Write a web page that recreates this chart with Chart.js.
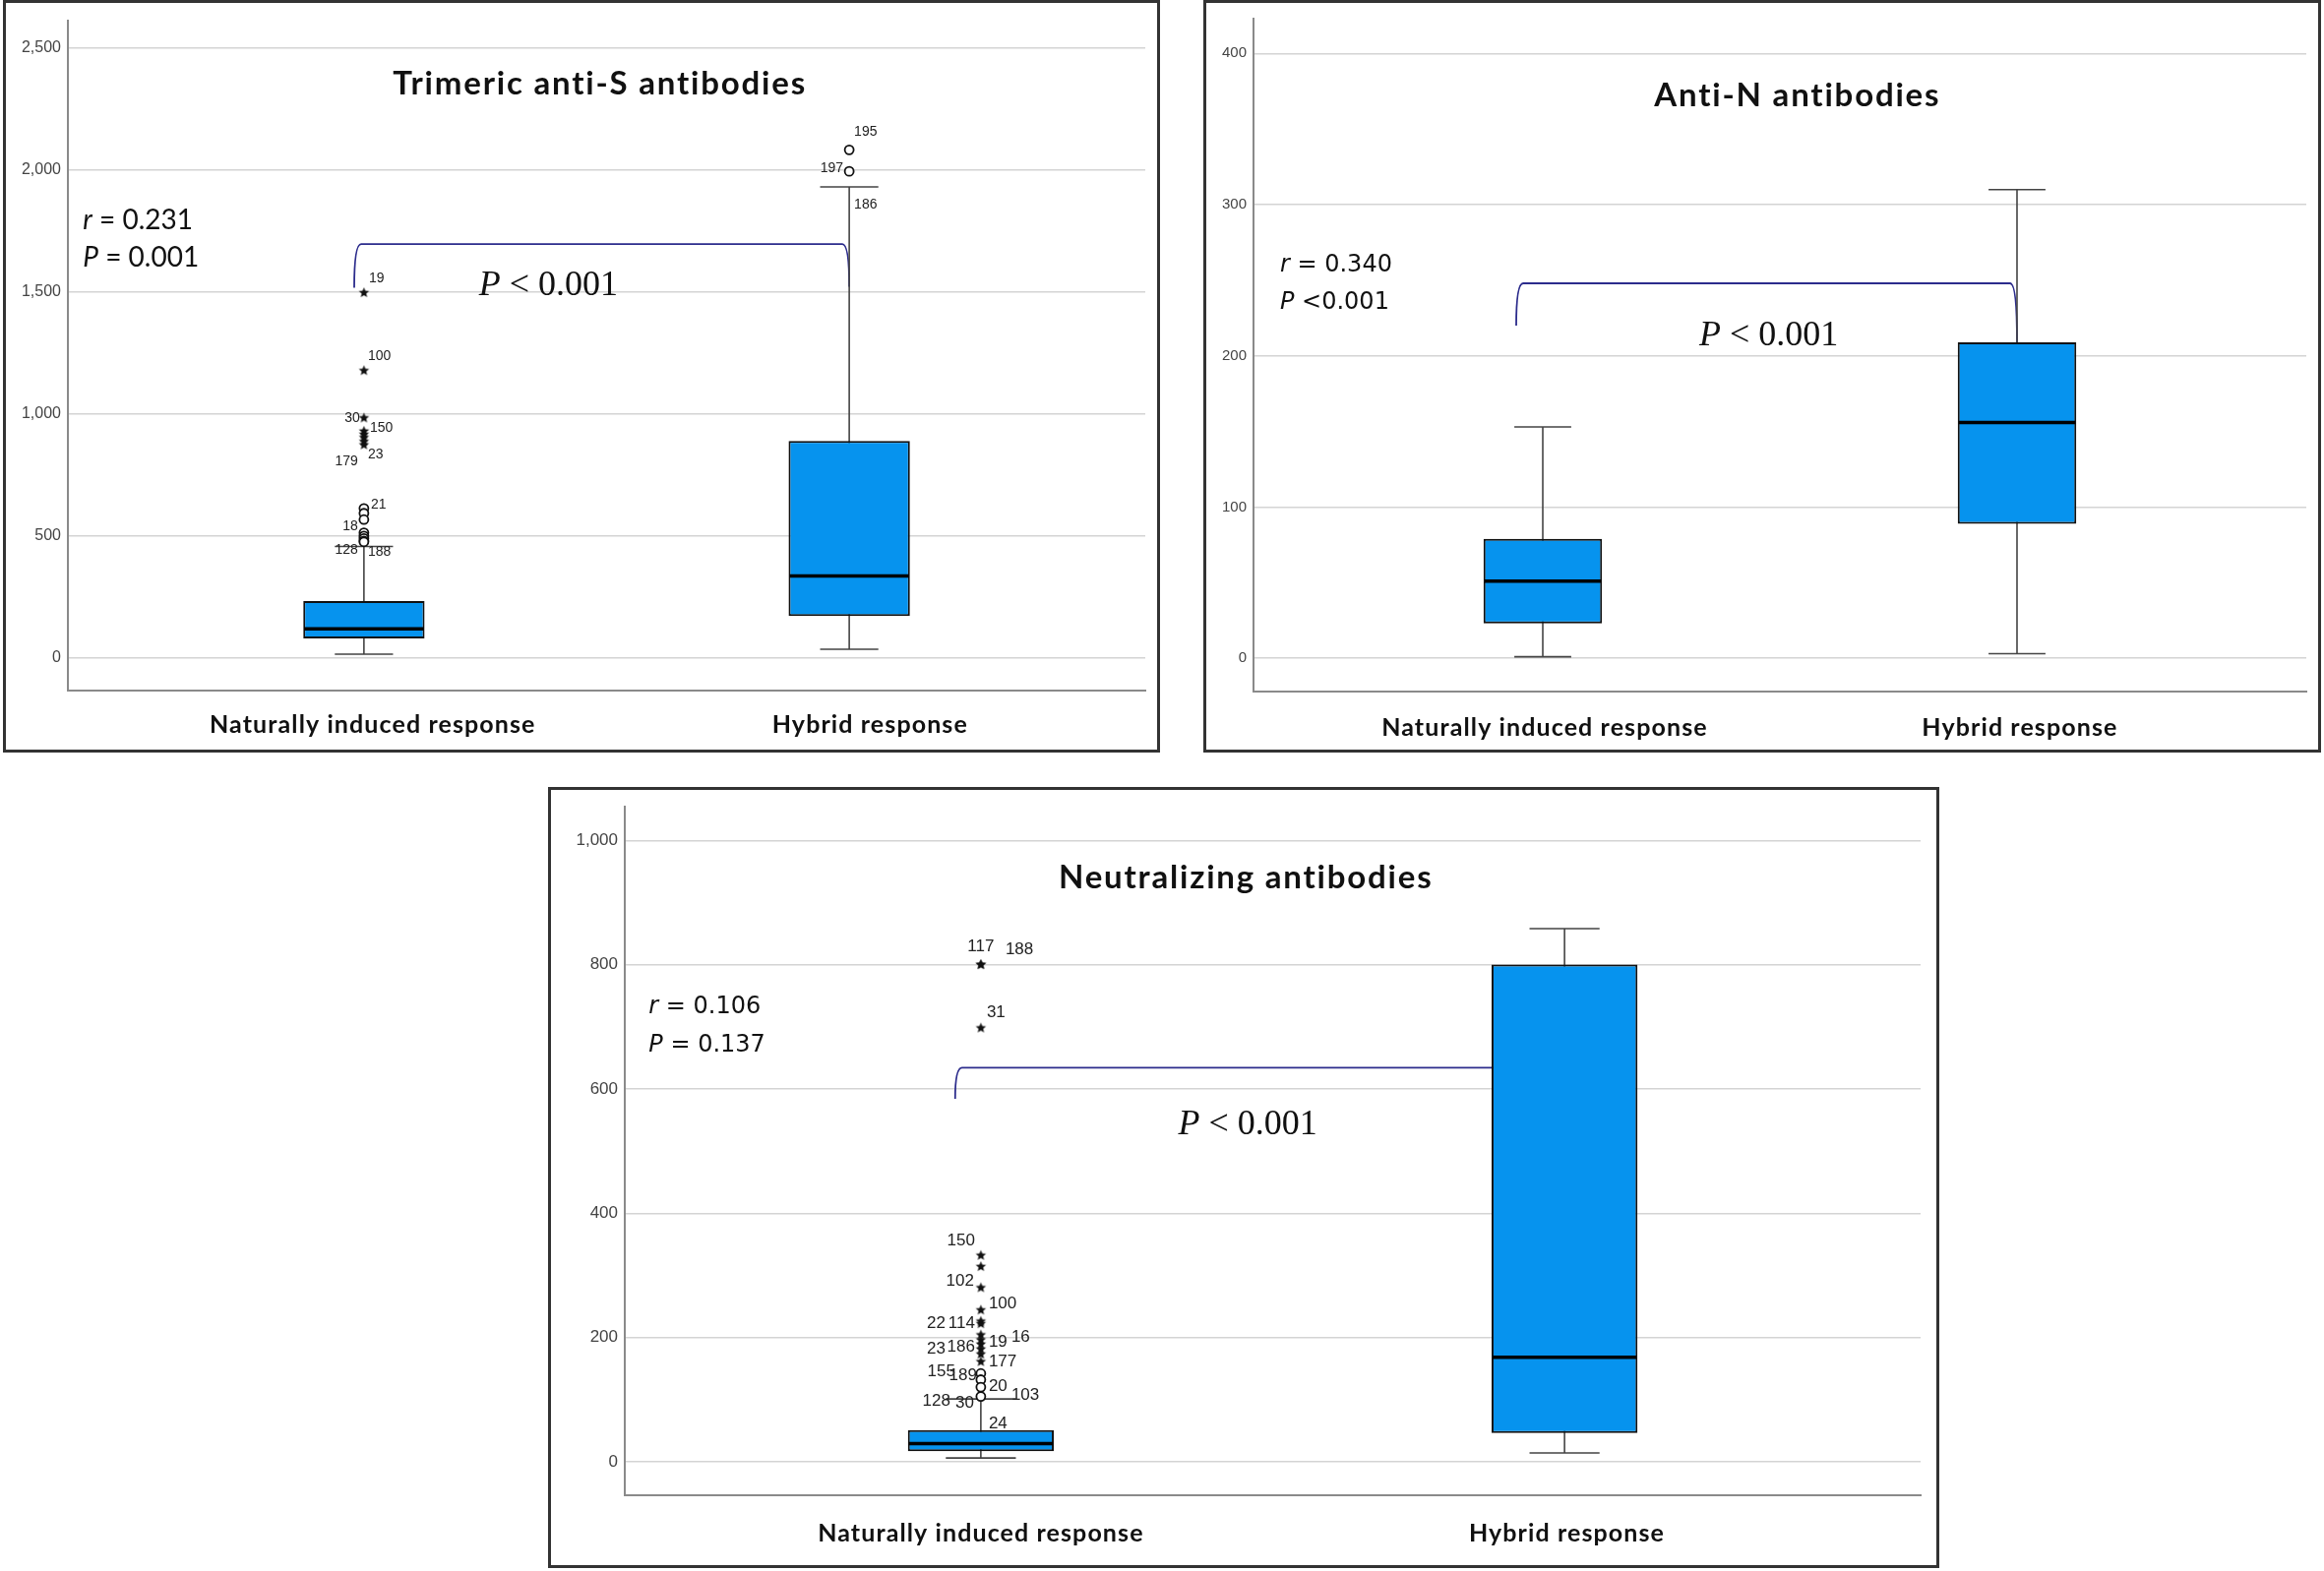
<!DOCTYPE html>
<html>
<head>
<meta charset="utf-8">
<script src="https://cdn.jsdelivr.net/npm/chart.js@4.4.1/dist/chart.umd.min.js"></script>
<style>
  html, body { margin: 0; padding: 0; background: #fff; }
  body { width: 2362px; height: 1597px; position: relative; overflow: hidden; }
  .panel { position: absolute; box-sizing: border-box; border: 3px solid #333; background: #fff; }
  .panel canvas { display: block; }
</style>
</head>
<body>
<div class="panel" style="left:3px;top:0;width:1176px;height:765px"><canvas id="chart-trimeric" width="1170" height="759"></canvas></div>
<div class="panel" style="left:1223px;top:0;width:1136px;height:765px"><canvas id="chart-antin" width="1130" height="759"></canvas></div>
<div class="panel" style="left:557px;top:800px;width:1414px;height:794px"><canvas id="chart-neut" width="1408" height="788"></canvas></div>
<script>
const groups = ["Naturally induced response", "Hybrid response"];

// Trimeric anti-S
const trimericTicks = [0, 500, 1000, 1500, 2000, 2500];
const trimericMin = [16, 36];
const trimericQ1 = [80, 172];
const trimericMedian = [120, 336];
const trimericQ3 = [234, 889];
const trimericMax = [457, 1929];
const trimericCircleGroup = [0, 0, 0, 0, 0, 0, 0, 0, 1, 1];
const trimericCircleValue = [613, 593, 567, 513, 500, 490, 480, 476, 1993, 2081];
const trimericCircleId = ["21", "", "18", "", "", "", "128", "188", "197", "195"];
const trimericStarGroup = [0, 0, 0, 0, 0, 0, 0, 0];
const trimericStarValue = [1496, 1177, 983, 929, 916, 903, 887, 873];
const trimericStarId = ["19", "100", "30", "150", "", "", "23", "179"];
const trimericCaseGroup = [1];
const trimericCaseValue = [1929];
const trimericCaseId = ["186"];

// Anti-N
const antiNTicks = [0, 100, 200, 300, 400];
const antiNMin = [1, 3];
const antiNQ1 = [23, 89];
const antiNMedian = [51, 156];
const antiNQ3 = [79, 209];
const antiNMax = [153, 310];

// Neutralizing
const neutTicks = [0, 200, 400, 600, 800, 1000];
const neutMin = [6, 14];
const neutQ1 = [17, 46];
const neutMedian = [29, 168];
const neutQ3 = [51, 800];
const neutMax = [101, 858];
const neutCircleGroup = [0, 0, 0, 0];
const neutCircleValue = [142, 132, 120, 105];
const neutCircleId = ["155", "189", "20", "30"];
const neutStarGroup = [0, 0, 0, 0, 0, 0, 0, 0, 0, 0, 0, 0, 0, 0, 0];
const neutStarValue = [800, 800, 698, 332, 314, 280, 244, 226, 222, 204, 196, 189, 181, 173, 161];
const neutStarId = ["117", "188", "31", "150", "", "102", "100", "114", "22", "16", "19", "", "186", "23", "177"];
const neutCaseGroup = [0, 0, 0];
const neutCaseValue = [101, 101, 51];
const neutCaseId = ["128", "103", "24"];

// Significance brackets: [x start, x end, top, left foot, right foot]
const trimericBracket = [-0.02, 1.0, 1695, 1516, 1520];
const antiNBracket = [-0.056, 1.0, 248, 220, 209];
const neutBracket = [-0.044, 0.936, 634, 584, 600];

// label offsets in px, [dx, dy]
const trimericCircleLabelPos = [[7, -4], [0, 0], [-6, 7], [0, 0], [0, 0], [0, 0], [-6, 9], [4, 10], [-6, -3], [5, -18]];
const trimericStarLabelPos = [[5, -14], [4, -15], [-4, 0], [6, -3], [0, 0], [0, 0], [4, 13], [-6, 17]];
const trimericCaseLabelPos = [[5, 18]];
const neutCircleLabelPos = [[-26, -2], [-4, -4], [8, -1], [-7, 7]];
const neutStarLabelPos = [[0, -18], [25, -15], [6, -16], [-6, -15], [0, 0], [-7, -7], [8, -6], [-6, 2], [-36, 0], [31, 2], [8, 2], [0, 0], [-6, -2], [-36, -5], [8, 0]];
const neutCaseLabelPos = [[-31, 2], [31, -4], [8, -6]];

const BOX_FILL = "#0693ee";

function makeStar(r) {
  const c = document.createElement("canvas");
  c.width = c.height = Math.ceil(r * 2 + 2);
  const g = c.getContext("2d");
  const cx = c.width / 2, cy = c.height / 2;
  g.beginPath();
  for (let k = 0; k < 10; k++) {
    const rad = k % 2 === 0 ? r : r * 0.45;
    const a = -Math.PI / 2 + (k * Math.PI) / 5;
    g.lineTo(cx + rad * Math.cos(a), cy + rad * Math.sin(a));
  }
  g.closePath();
  g.fillStyle = "#111";
  g.fill();
  return c;
}
const starImg = makeStar(5.5);

function points(g, v) {
  return g.map((x, i) => ({ x: x, y: v[i] }));
}

function drawParts(ctx, parts, x, y, size, family, weight, align, spacing) {
  const fontOf = (it) => (it ? "italic " : "") + (weight || "normal") + " " + size + "px " + family;
  ctx.letterSpacing = (spacing || 0) + "px";
  let total = 0;
  parts.forEach(([t, it]) => { ctx.font = fontOf(it); total += ctx.measureText(t).width; });
  let cx = align === "center" ? x - total / 2 : x;
  ctx.textAlign = "left";
  ctx.textBaseline = "middle";
  parts.forEach(([t, it]) => {
    ctx.font = fontOf(it);
    ctx.fillText(t, cx, y);
    cx += ctx.measureText(t).width;
  });
  ctx.letterSpacing = "0px";
}

function extras(p) {
  return {
    id: "extras",
    beforeDatasetsDraw(chart) {
      const ctx = chart.ctx;
      const x = chart.scales.x, y = chart.scales.y;
      ctx.save();
      const [bx0, bx1, bt, by0, by1] = p.bracket;
      const X0 = x.getPixelForValue(bx0), X1 = x.getPixelForValue(bx1);
      const T = y.getPixelForValue(bt), Y0 = y.getPixelForValue(by0), Y1 = y.getPixelForValue(by1);
      ctx.strokeStyle = "#2c2c8c";
      ctx.lineWidth = 1.8;
      ctx.beginPath();
      ctx.moveTo(X0, Y0);
      ctx.quadraticCurveTo(X0, T, X0 + 7, T);
      ctx.lineTo(X1 - 7, T);
      ctx.quadraticCurveTo(X1, T, X1, Y1);
      ctx.stroke();
      // whiskers
      ctx.strokeStyle = "#444";
      ctx.lineWidth = 1.6;
      p.min.forEach((lo, i) => {
        const cx = x.getPixelForValue(i);
        const half = x.getPixelForValue(i + 0.06) - cx;
        const pl = y.getPixelForValue(lo), ph = y.getPixelForValue(p.max[i]);
        ctx.beginPath();
        ctx.moveTo(cx, pl); ctx.lineTo(cx, ph);
        ctx.moveTo(cx - half, pl); ctx.lineTo(cx + half, pl);
        ctx.moveTo(cx - half, ph); ctx.lineTo(cx + half, ph);
        ctx.stroke();
      });
      ctx.restore();
    },
    afterDatasetsDraw(chart) {
      const ctx = chart.ctx;
      const x = chart.scales.x, y = chart.scales.y;
      ctx.save();
      ctx.strokeStyle = "#000";
      ctx.lineWidth = 3.5;
      p.median.forEach((m, i) => {
        const half = x.getPixelForValue(i + 0.125) - x.getPixelForValue(i);
        const cx = x.getPixelForValue(i), py = y.getPixelForValue(m);
        ctx.beginPath();
        ctx.moveTo(cx - half + 1, py); ctx.lineTo(cx + half - 1, py);
        ctx.stroke();
      });
      ctx.fillStyle = "#222";
      ctx.font = p.labelSize + "px 'Liberation Sans'";
      ctx.textBaseline = "middle";
      p.labels.forEach(([g, v, ids, pos]) => {
        ids.forEach((id, i) => {
          if (!id) return;
          const [dx, dy] = pos[i];
          ctx.textAlign = dx > 0 ? "left" : dx < 0 ? "right" : "center";
          ctx.fillText(id, x.getPixelForValue(g[i]) + dx, y.getPixelForValue(v[i]) + dy);
        });
      });
      ctx.restore();
    },
    afterDraw(chart) {
      const ctx = chart.ctx;
      const x = chart.scales.x, y = chart.scales.y;
      ctx.save();
      ctx.fillStyle = "#111";
      p.texts.forEach((t) => {
        drawParts(ctx, t.parts, x.getPixelForValue(t.x), y.getPixelForValue(t.v), t.size, t.family, t.weight, t.align, t.spacing);
      });
      groups.forEach((g, i) => {
        drawParts(ctx, [[g, 0]], x.getPixelForValue(p.groupAt[i]), chart.chartArea.bottom + p.groupDy, 25, "Lato", "bold", "center", 1.1);
      });
      ctx.restore();
    },
  };
}

function makePanel(id, p) {
  const datasets = [
    {
      type: "bar",
      data: p.q1.map((q, i) => ({ x: i, y: [q, p.q3[i]] })),
      backgroundColor: BOX_FILL,
      borderColor: "#111",
      borderWidth: 2,
      borderSkipped: false,
      categoryPercentage: 0.25,
      barPercentage: 1,
    },
  ];
  p.circles.forEach((c) => {
    datasets.push({
      type: "scatter",
      data: c,
      pointStyle: "circle",
      pointRadius: 4.5,
      borderColor: "#111",
      backgroundColor: "#fff",
      borderWidth: 1.8,
    });
  });
  p.stars.forEach((s) => {
    datasets.push({
      type: "scatter",
      data: s,
      pointStyle: starImg,
      pointRadius: 5,
    });
  });

  return new Chart(document.getElementById(id), {
    type: "bar",
    data: { datasets: datasets },
    options: {
      responsive: false,
      animation: false,
      events: [],
      layout: { padding: { top: p.padTop, right: p.padRight, left: 0, bottom: 0 } },
      plugins: { legend: { display: false }, tooltip: { enabled: false }, title: { display: false } },
      scales: {
        x: {
          type: "linear",
          min: -0.61,
          max: 1.61,
          offset: false,
          grid: { display: false, offset: false },
          border: { display: true, color: "#8a8a8a", width: 2 },
          afterBuildTicks: (s) => { s.ticks = groups.map((g, i) => ({ value: i })); },
          afterFit: (s) => { s.height = p.xHeight; },
          ticks: { display: false },
        },
        y: {
          type: "linear",
          min: p.yMin,
          max: p.yMax,
          grid: { color: "#d4d4d4", lineWidth: 1.5, drawTicks: false },
          border: { display: true, color: "#8a8a8a", width: 2 },
          afterBuildTicks: (s) => { s.ticks = p.ticks.map((v) => ({ value: v })); },
          afterFit: (s) => { s.width = p.yWidth; },
          ticks: {
            padding: 7,
            color: "#444",
            font: { family: "Liberation Sans", size: p.tickSize },
            callback: (v) => Number(v).toLocaleString("en-US"),
          },
        },
      },
    },
    plugins: [extras(p)],
  });
}

const chart = {
  trimeric: makePanel("chart-trimeric", {
    ticks: trimericTicks, yMin: -133, yMax: 2610, yWidth: 63, xHeight: 60,
    padTop: 18, padRight: 12, tickSize: 16, labelSize: 14,
    groupAt: [0.018, 1.043], groupDy: 35,
    min: trimericMin, q1: trimericQ1, median: trimericMedian, q3: trimericQ3, max: trimericMax,
    circles: [points(trimericCircleGroup, trimericCircleValue)],
    stars: [points(trimericStarGroup, trimericStarValue)],
    labels: [
      [trimericCircleGroup, trimericCircleValue, trimericCircleId, trimericCircleLabelPos],
      [trimericStarGroup, trimericStarValue, trimericStarId, trimericStarLabelPos],
      [trimericCaseGroup, trimericCaseValue, trimericCaseId, trimericCaseLabelPos],
    ],
    bracket: trimericBracket,
    texts: [
      { parts: [["Trimeric anti-S antibodies", 0]], x: 0.486, v: 2350, size: 33, family: "Lato", weight: "bold", align: "center", spacing: 1.8 },
      { parts: [["r", 1], [" = 0.231", 0]], x: -0.579, v: 1793, size: 28, family: "Lato" },
      { parts: [["P", 1], [" = 0.001", 0]], x: -0.579, v: 1640, size: 28, family: "Lato" },
      { parts: [["P", 1], [" < 0.001", 0]], x: 0.237, v: 1525, size: 36, family: "'Liberation Serif'" },
    ],
  }),
  antiN: makePanel("chart-antin", {
    ticks: antiNTicks, yMin: -22, yMax: 423, yWidth: 48, xHeight: 59,
    padTop: 10, padRight: 12, tickSize: 15, labelSize: 14,
    groupAt: [0.004, 1.006], groupDy: 37,
    min: antiNMin, q1: antiNQ1, median: antiNMedian, q3: antiNQ3, max: antiNMax,
    circles: [],
    stars: [],
    labels: [],
    bracket: antiNBracket,
    texts: [
      { parts: [["Anti-N antibodies", 0]], x: 0.537, v: 372, size: 33, family: "Lato", weight: "bold", align: "center", spacing: 1.8 },
      { parts: [["r", 1], [" = 0.340", 0]], x: -0.554, v: 260, size: 24, family: "'DejaVu Sans'" },
      { parts: [["P", 1], [" <0.001", 0]], x: -0.554, v: 235, size: 24, family: "'DejaVu Sans'" },
      { parts: [["P", 1], [" < 0.001", 0]], x: 0.33, v: 213, size: 36, family: "'Liberation Serif'" },
    ],
  }),
  neut: makePanel("chart-neut", {
    ticks: neutTicks, yMin: -54, yMax: 1054, yWidth: 75, xHeight: 71,
    padTop: 17, padRight: 16, tickSize: 17, labelSize: 17,
    groupAt: [0, 1.004], groupDy: 39,
    min: neutMin, q1: neutQ1, median: neutMedian, q3: neutQ3, max: neutMax,
    circles: [points(neutCircleGroup, neutCircleValue)],
    stars: [points(neutStarGroup, neutStarValue)],
    labels: [
      [neutCircleGroup, neutCircleValue, neutCircleId, neutCircleLabelPos],
      [neutStarGroup, neutStarValue, neutStarId, neutStarLabelPos],
      [neutCaseGroup, neutCaseValue, neutCaseId, neutCaseLabelPos],
    ],
    bracket: neutBracket,
    texts: [
      { parts: [["Neutralizing antibodies", 0]], x: 0.454, v: 940, size: 33, family: "Lato", weight: "bold", align: "center", spacing: 1.8 },
      { parts: [["r", 1], [" = 0.106", 0]], x: -0.569, v: 732, size: 24, family: "'DejaVu Sans'" },
      { parts: [["P", 1], [" = 0.137", 0]], x: -0.569, v: 670, size: 24, family: "'DejaVu Sans'" },
      { parts: [["P", 1], [" < 0.001", 0]], x: 0.338, v: 542, size: 36, family: "'Liberation Serif'" },
    ],
  }),
};
</script>
</body>
</html>
